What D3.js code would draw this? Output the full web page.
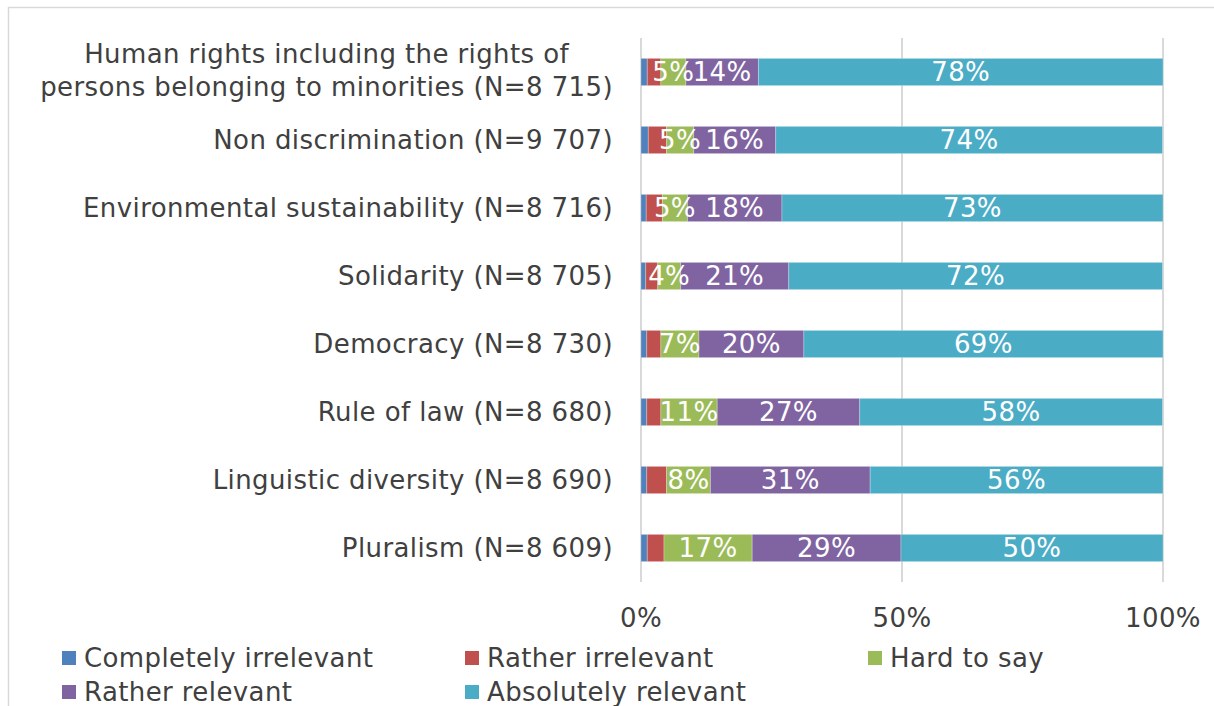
<!DOCTYPE html>
<html>
<head>
<meta charset="utf-8">
<script src="https://cdn.jsdelivr.net/npm/d3@7"></script>
<style>
  html, body { margin: 0; padding: 0; background: #fff; }
  svg { display: block; font-family: "DejaVu Sans", Verdana, sans-serif; }
</style>
</head>
<body>
<svg id="chart" width="1214" height="706"></svg>
<script>
const categories = [
  ["Human rights including the rights of", "persons belonging to minorities (N=8 715)"],
  ["Non discrimination (N=9 707)"],
  ["Environmental sustainability (N=8 716)"],
  ["Solidarity (N=8 705)"],
  ["Democracy (N=8 730)"],
  ["Rule of law (N=8 680)"],
  ["Linguistic diversity (N=8 690)"],
  ["Pluralism (N=8 609)"]
];
const seriesNames = ["Completely irrelevant", "Rather irrelevant", "Hard to say", "Rather relevant", "Absolutely relevant"];
const completelyIrrelevant = [1.2, 1.4, 1.0, 0.9, 1.1, 1.1, 1.1, 1.2];
const ratherIrrelevant     = [2.6, 3.5, 3.1, 2.3, 2.7, 2.7, 3.8, 3.2];
const hardToSay            = [4.8, 5.2, 4.8, 4.4, 7.3, 10.8, 8.4, 16.9];
const ratherRelevant       = [13.9, 15.7, 18.1, 20.7, 20.1, 27.3, 30.6, 28.5];
const absolutelyRelevant   = [77.5, 74.1, 73.0, 71.6, 68.8, 58.0, 56.1, 50.2];
const labelledSeries = ["Hard to say", "Rather relevant", "Absolutely relevant"];
const tickValues = [0, 50, 100];
const colors = ["#4F81BD", "#C0504D", "#9BBB59", "#8064A2", "#4BACC6"];

const seriesValues = [completelyIrrelevant, ratherIrrelevant, hardToSay, ratherRelevant, absolutelyRelevant];
const keys = categories.map((c, i) => "c" + i);
const rows = keys.map((k, i) => {
  const r = { key: k };
  seriesNames.forEach((s, j) => r[s] = seriesValues[j][i]);
  return r;
});

const svg = d3.select("#chart");
const textColor = "#404040";
const gridColor = "#D9D9D9";
const ls = 0.4;

// outer frame
svg.append("rect").attr("x", 8.5).attr("y", 7.5).attr("width", 1230).attr("height", 720)
  .attr("fill", "none").attr("stroke", gridColor).attr("stroke-width", 1.5);

const x = d3.scaleLinear().domain([0, 100]).range([641, 1163]);
const y = d3.scaleBand().domain(keys).range([38, 582]).paddingInner(0.6).paddingOuter(0.3);

// gridlines
svg.append("g").selectAll("line").data(tickValues).join("line")
  .attr("x1", d => x(d)).attr("x2", d => x(d))
  .attr("y1", 38).attr("y2", 582)
  .attr("stroke", gridColor).attr("stroke-width", 2);

// stacked bars
const stack = d3.stack().keys(seriesNames)(rows);
const gBars = svg.append("g");
stack.forEach((layer, j) => {
  const g = gBars.append("g").attr("fill", colors[j]);
  g.selectAll("rect").data(layer).join("rect")
    .attr("x", d => x(d[0]))
    .attr("width", d => x(d[1]) - x(d[0]))
    .attr("y", d => y(d.data.key))
    .attr("height", y.bandwidth())
    .attr("stroke", "#fff").attr("stroke-opacity", 0.25).attr("stroke-width", 1);
});

// data labels
const fmt = v => d3.format(".0f")(v) + "%";
stack.forEach((layer, j) => {
  if (!labelledSeries.includes(seriesNames[j])) return;
  svg.append("g").selectAll("text").data(layer).join("text")
    .attr("x", d => (x(d[0]) + x(d[1])) / 2)
    .attr("y", d => y(d.data.key) + y.bandwidth() / 2)
    .attr("text-anchor", "middle").attr("dominant-baseline", "central")
    .attr("fill", "#fff").attr("font-size", 26).attr("letter-spacing", ls)
    .text(d => fmt(d[1] - d[0]));
});

// y-axis category labels
const labelRight = 613;
const gy = svg.append("g");
categories.forEach((lines, i) => {
  const cy = y(keys[i]) + y.bandwidth() / 2;
  const lh = 33;
  const texts = lines.map((ln, k) => gy.append("text")
    .attr("y", cy + (k - (lines.length - 1) / 2) * lh - (lines.length > 1 ? 2 : 0))
    .attr("dominant-baseline", "central")
    .attr("fill", textColor).attr("font-size", 26).attr("letter-spacing", ls)
    .text(ln));
  const widths = texts.map(t => t.node().getComputedTextLength());
  const maxW = Math.max(...widths);
  const center = labelRight - maxW / 2;
  texts.forEach(t => t.attr("x", center).attr("text-anchor", "middle"));
});

// x-axis tick labels
svg.append("g").selectAll("text").data(tickValues).join("text")
  .attr("x", d => x(d)).attr("y", 618)
  .attr("text-anchor", "middle").attr("dominant-baseline", "central")
  .attr("fill", textColor).attr("font-size", 26).attr("letter-spacing", ls)
  .text(d => d + "%");

// legend
const legendX = [62, 465, 868];
const legendY = [658, 692];
const gl = svg.append("g");
seriesNames.forEach((s, j) => {
  const col = j < 3 ? j : j - 3;
  const row = j < 3 ? 0 : 1;
  const lx = legendX[col], ly = legendY[row];
  gl.append("rect").attr("x", lx).attr("y", ly - 7).attr("width", 14).attr("height", 14).attr("fill", colors[j]);
  gl.append("text").attr("x", lx + 22).attr("y", ly)
    .attr("dominant-baseline", "central")
    .attr("fill", textColor).attr("font-size", 26).attr("letter-spacing", ls).text(s);
});
</script>
</body>
</html>
